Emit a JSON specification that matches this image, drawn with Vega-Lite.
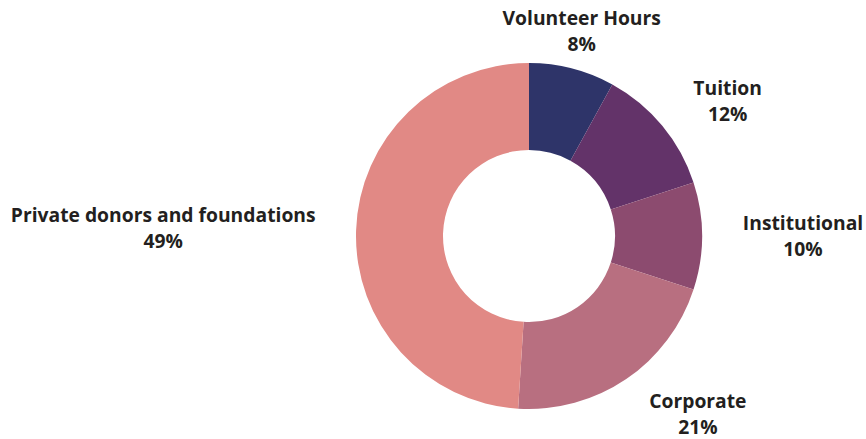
{
  "$schema": "https://vega.github.io/schema/vega-lite/v6.json",
  "width": 674,
  "height": 348,
  "autosize": {"type": "none"},
  "padding": {"left": 192, "top": 62, "right": 0, "bottom": 29},
  "background": "white",
  "config": {"view": {"stroke": null}, "font": "Open Sans"},
  "data": {
    "values": [
      {"category": "Volunteer Hours", "value": 8, "order": 1},
      {"category": "Tuition", "value": 12, "order": 2},
      {"category": "Institutional", "value": 10, "order": 3},
      {"category": "Corporate", "value": 21, "order": 4},
      {"category": "Private donors and foundations", "value": 49, "order": 5}
    ]
  },
  "transform": [{"calculate": "datum.category + '\\n' + datum.value + '%'", "as": "label"}],
  "encoding": {
    "theta": {"field": "value", "type": "quantitative", "stack": true},
    "order": {"field": "order", "type": "quantitative"}
  },
  "layer": [
    {
      "mark": {"type": "arc", "outerRadius": 173, "innerRadius": 86},
      "encoding": {
        "color": {
          "field": "category",
          "type": "nominal",
          "scale": {
            "domain": ["Volunteer Hours", "Tuition", "Institutional", "Corporate", "Private donors and foundations"],
            "range": ["#2e3469", "#633369", "#8c4b6f", "#b86f80", "#e18985"]
          },
          "legend": null
        }
      }
    },
    {
      "mark": {
        "type": "text",
        "font": "Open Sans",
        "fontWeight": "bold",
        "fontSize": 19.3,
        "color": "#231f20",
        "lineBreak": "\n",
        "lineHeight": 26,
        "baseline": "middle",
        "align": "center",
        "dy": {"expr": "datum.category == 'Private donors and foundations' ? -9 : datum.category == 'Tuition' ? -10 : datum.category == 'Volunteer Hours' ? -12 : -12"},
        "dx": {"expr": "datum.category == 'Tuition' ? 33 : datum.category == 'Corporate' ? 48 : 0"},
        "radius": {"expr": "datum.category == 'Volunteer Hours' ? 212 : datum.category == 'Institutional' ? 274 : datum.category == 'Private donors and foundations' ? 366 : 215"}
      },
      "encoding": {"text": {"field": "label", "type": "nominal"}}
    }
  ]
}
